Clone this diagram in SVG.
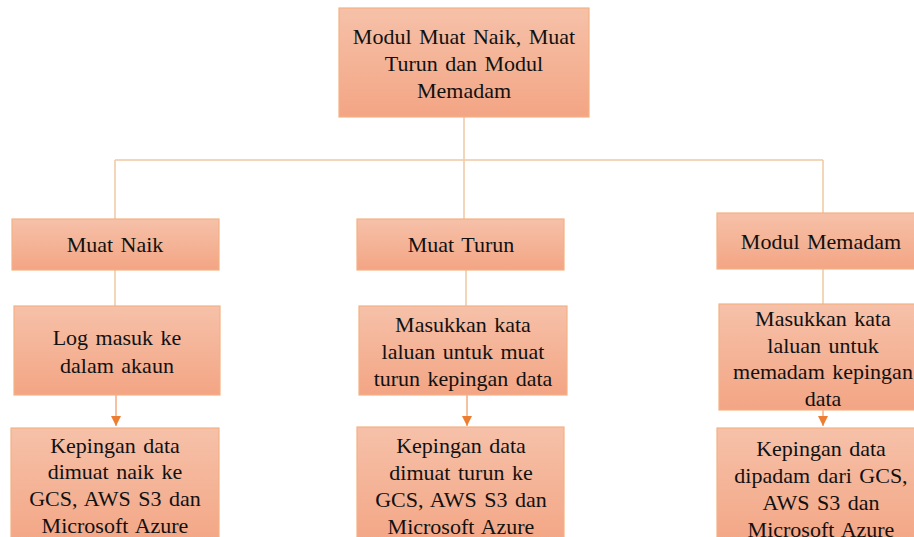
<svg xmlns="http://www.w3.org/2000/svg" width="914" height="537" viewBox="0 0 914 537">
  <defs>
    <linearGradient id="boxFill" x1="0" y1="0" x2="0" y2="1">
      <stop offset="0" stop-color="#f6c1a9"/>
      <stop offset="1" stop-color="#f3a584"/>
    </linearGradient>
    <marker id="arrow" viewBox="0 0 10 10" refX="10" refY="5" markerWidth="10" markerHeight="10" markerUnits="userSpaceOnUse" orient="auto">
      <path d="M0,0 L10,5 L0,10 Z" fill="#ed7d31"/>
    </marker>
  </defs>
  <style>
    .box { fill: url(#boxFill); stroke: #f4b183; stroke-width: 1.2; }
    .lbl { font-family: "Liberation Serif", "Times New Roman", serif; font-size: 22px; fill: #111; text-anchor: middle; word-spacing: 2px; }
    .link { fill: none; stroke: #efc9a3; stroke-width: 1.5; }
    .flow { fill: none; stroke: #f0a070; stroke-width: 1.3; }
  </style>
  <rect width="914" height="537" fill="#ffffff"/>

  <g id="connectors">
    <path class="link" d="M464,117 V160"/>
    <path class="link" d="M115,160 H823"/>
    <path class="link" d="M115,160 V219"/>
    <path class="link" d="M464,160 V219"/>
    <path class="link" d="M823,160 V213"/>
    <path class="link" d="M115,270 V306"/>
    <path class="link" d="M466,270 V306"/>
    <path class="link" d="M823,269 V304"/>
    <path class="flow" d="M116,395 V426" marker-end="url(#arrow)"/>
    <path class="flow" d="M467,395 V426" marker-end="url(#arrow)"/>
    <path class="flow" d="M823,410 V426" marker-end="url(#arrow)"/>
  </g>

  <g id="root">
    <rect class="box" x="339" y="8" width="250" height="109"/>
    <text class="lbl" x="464" y="44">Modul Muat Naik, Muat</text>
    <text class="lbl" x="464" y="71">Turun dan Modul</text>
    <text class="lbl" x="464" y="98">Memadam</text>
  </g>

  <g id="muat-naik">
    <rect class="box" x="12" y="219" width="207" height="51"/>
    <text class="lbl" x="115" y="252">Muat Naik</text>
  </g>
  <g id="muat-turun">
    <rect class="box" x="357" y="219" width="207" height="51"/>
    <text class="lbl" x="461" y="252">Muat Turun</text>
  </g>
  <g id="modul-memadam">
    <rect class="box" x="717" y="213" width="212" height="56"/>
    <text class="lbl" x="821" y="249">Modul Memadam</text>
  </g>

  <g id="log-masuk">
    <rect class="box" x="14" y="306" width="206" height="89"/>
    <text class="lbl" x="117" y="345">Log masuk ke</text>
    <text class="lbl" x="117" y="373">dalam akaun</text>
  </g>
  <g id="kata-laluan-turun">
    <rect class="box" x="359" y="306" width="208" height="89"/>
    <text class="lbl" x="463" y="332">Masukkan kata</text>
    <text class="lbl" x="463" y="359">laluan untuk muat</text>
    <text class="lbl" x="463" y="386">turun kepingan data</text>
  </g>
  <g id="kata-laluan-padam">
    <rect class="box" x="719" y="304" width="212" height="106"/>
    <text class="lbl" x="823" y="326">Masukkan kata</text>
    <text class="lbl" x="823" y="353">laluan untuk</text>
    <text class="lbl" x="823" y="379">memadam kepingan</text>
    <text class="lbl" x="823" y="406">data</text>
  </g>

  <g id="dimuat-naik">
    <rect class="box" x="11" y="428" width="208" height="120"/>
    <text class="lbl" x="115" y="453">Kepingan data</text>
    <text class="lbl" x="115" y="479">dimuat naik ke</text>
    <text class="lbl" x="115" y="506">GCS, AWS S3 dan</text>
    <text class="lbl" x="115" y="533">Microsoft Azure</text>
  </g>
  <g id="dimuat-turun">
    <rect class="box" x="357" y="427" width="207" height="120"/>
    <text class="lbl" x="461" y="453">Kepingan data</text>
    <text class="lbl" x="461" y="480">dimuat turun ke</text>
    <text class="lbl" x="461" y="507">GCS, AWS S3 dan</text>
    <text class="lbl" x="461" y="534">Microsoft Azure</text>
  </g>
  <g id="dipadam">
    <rect class="box" x="717" y="428" width="212" height="120"/>
    <text class="lbl" x="821" y="456">Kepingan data</text>
    <text class="lbl" x="821" y="483">dipadam dari GCS,</text>
    <text class="lbl" x="821" y="510">AWS S3 dan</text>
    <text class="lbl" x="821" y="537">Microsoft Azure</text>
  </g>
</svg>
